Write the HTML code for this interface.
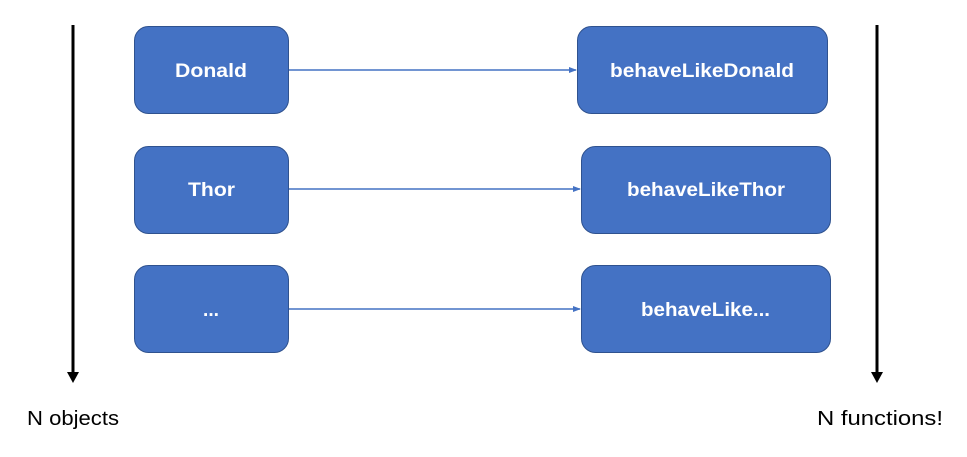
<!DOCTYPE html>
<html><head><style>
body{margin:0;background:#fff;width:967px;height:452px;overflow:hidden;font-family:"Liberation Sans",sans-serif}
</style></head><body>
<svg width="967" height="452" xmlns="http://www.w3.org/2000/svg">
<defs>
<marker id="a" markerWidth="8" markerHeight="8" refX="7" refY="4" orient="auto" markerUnits="userSpaceOnUse"><path d="M0,1 L8,4 L0,7 z" fill="#4472C4"/></marker>
</defs>
<line x1="73" y1="25" x2="73" y2="372" stroke="#000" stroke-width="3"/>
<path d="M67,372 L79,372 L73,383 z" fill="#000"/>
<line x1="877" y1="25" x2="877" y2="372" stroke="#000" stroke-width="3"/>
<path d="M871,372 L883,372 L877,383 z" fill="#000"/>
<g fill="#4472C4" stroke="#2F528F" stroke-width="1">
<rect x="134.5" y="26.5" width="154" height="87" rx="14"/>
<rect x="134.5" y="146.5" width="154" height="87" rx="14"/>
<rect x="134.5" y="265.5" width="154" height="87" rx="14"/>
<rect x="577.5" y="26.5" width="250" height="87" rx="14"/>
<rect x="581.5" y="146.5" width="249" height="87" rx="14"/>
<rect x="581.5" y="265.5" width="249" height="87" rx="14"/>
</g>
<g stroke="#4472C4" stroke-width="1.5" marker-end="url(#a)">
<line x1="289" y1="70" x2="576" y2="70"/>
<line x1="289" y1="189" x2="580" y2="189"/>
<line x1="289" y1="309" x2="580" y2="309"/>
</g>
<g fill="#fff" font-weight="bold" font-size="19" lengthAdjust="spacingAndGlyphs">
<text x="175" y="77" textLength="72" lengthAdjust="spacingAndGlyphs">Donald</text>
<text x="188" y="196" textLength="47" lengthAdjust="spacingAndGlyphs">Thor</text>
<text x="203" y="316" textLength="16" lengthAdjust="spacingAndGlyphs">...</text>
<text x="610" y="77" textLength="184" lengthAdjust="spacingAndGlyphs">behaveLikeDonald</text>
<text x="627" y="196" textLength="158" lengthAdjust="spacingAndGlyphs">behaveLikeThor</text>
<text x="641" y="316" textLength="129" lengthAdjust="spacingAndGlyphs">behaveLike...</text>
</g>
<g fill="#000" font-size="20">
<text x="27" y="425" textLength="92" lengthAdjust="spacingAndGlyphs">N objects</text>
<text x="817" y="425" textLength="126" lengthAdjust="spacingAndGlyphs">N functions!</text>
</g>
</svg>
</body></html>
